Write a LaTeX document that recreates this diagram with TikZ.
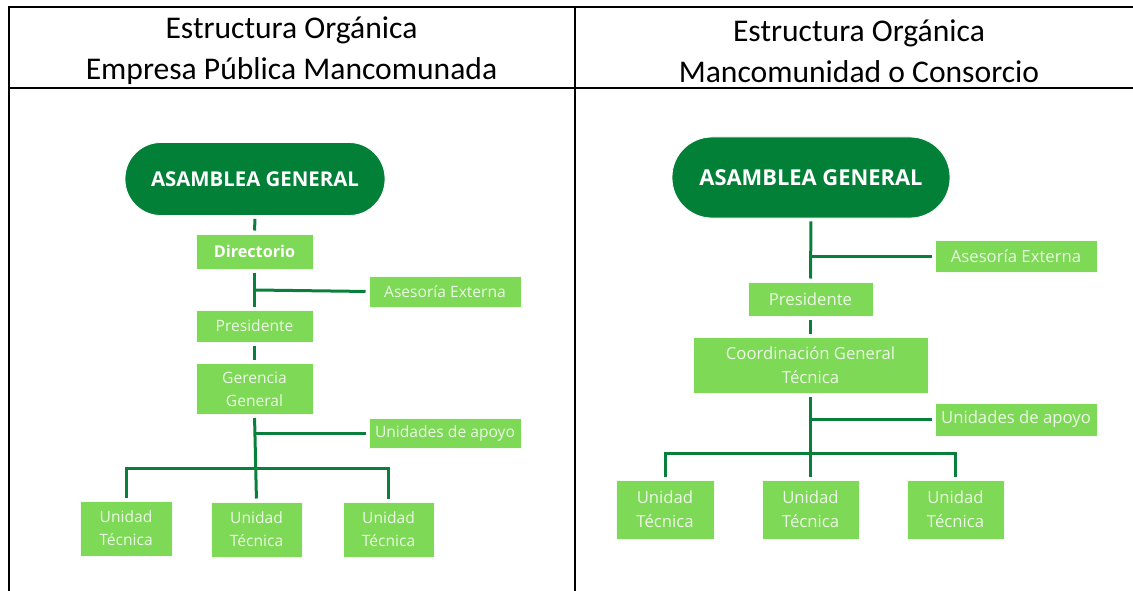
\documentclass[tikz,border=0pt]{standalone}
\usepackage{fontspec}
\setmainfont{Carlito}
\newfontfamily\os{Open Sans}
\definecolor{dgreen}{RGB}{2,128,55}
\definecolor{lgreen}{RGB}{126,217,87}
\definecolor{ltxt}{RGB}{236,248,230}
\definecolor{lconn}{RGB}{8,128,60}
\tikzset{
  pill/.style={fill=dgreen, draw=white, line width=0.8pt, rounded corners=#1, text=white,
    font=\os\bfseries\fontsize{20.4}{24}\selectfont, inner sep=0pt},
  lbox/.style={fill=lgreen, draw=white!92!lgreen, line width=1pt, text=ltxt, inner sep=0pt,
    align=center, font=\os\fontsize{15.6}{23}\selectfont},
  rbox/.style={lbox, font=\os\fontsize{16.7}{24}\selectfont},
  conn/.style={draw=lconn, line width=3pt, shorten <=3pt, shorten >=3pt},
  rule/.style={draw=black, line width=2pt},
  head/.style={align=center, font=\fontsize{31.6}{41}\selectfont, inner sep=0pt}
}
\begin{document}
\begin{tikzpicture}[x=1pt,y=-1pt]
\useasboundingbox (0,0) rectangle (1133,591);
% table rules
\draw[rule] (1133,7.5) -- (8.5,7.5) -- (8.5,591);
\draw[rule] (8.5,88) -- (1133,88);
\draw[rule] (575,7.5) -- (575,591);
\node[head] (hL) at (291.5,51) {Estructura Orgánica\\Empresa Pública Mancomunada};
\node[head] (hR) at (859,51) {Estructura Orgánica\\Mancomunidad o Consorcio};

% ---------- left chart ----------
\node[pill=36pt, minimum width=260pt, minimum height=73pt] (asmL) at (255,179) {ASAMBLEA GENERAL};
\node[lbox, minimum width=117pt, minimum height=35pt, font=\os\bfseries\fontsize{16.2}{22}\selectfont, text=white] (dirL) at (254.5,251.5) {Directorio};
\node[lbox, minimum width=152pt, minimum height=31pt] (aseL) at (445,291.5) {Asesoría Externa};
\node[lbox, minimum width=117pt, minimum height=32pt] (preL) at (254.5,326) {Presidente};
\node[lbox, minimum width=117pt, minimum height=51pt] (gerL) at (254.5,389) {Gerencia\\General};
\node[lbox, minimum width=152pt, minimum height=30pt] (uniL) at (445,433) {Unidades de apoyo};
\node[lbox, minimum width=92pt, minimum height=55pt] (u1L) at (126,528.5) {Unidad\\Técnica};
\node[lbox, minimum width=91pt, minimum height=55pt] (u2L) at (256.5,529.5) {Unidad\\Técnica};
\node[lbox, minimum width=91pt, minimum height=55pt] (u3L) at (388.5,529.5) {Unidad\\Técnica};
\coordinate (jaL) at (255,290);
\coordinate (juL) at (255.7,433);
\coordinate (busL) at (256,468);
\draw[conn] (asmL.south) -- (dirL.north);
\draw[conn] (dirL.south) -- (preL.north);
\draw[conn, shorten <=0pt] (jaL) -- (aseL.west);
\draw[conn] (preL.south) -- (gerL.north);
\draw[conn] (gerL.south) -- (u2L.north);
\draw[conn, shorten <=0pt] (juL) -- (uniL.west);
\draw[conn] (u1L.north) |- (busL) -| (u3L.north);

% ---------- right chart ----------
\node[pill=40pt, minimum width=278pt, minimum height=81pt, font=\os\bfseries\fontsize{21.9}{26}\selectfont] (asmR) at (811,177.5) {ASAMBLEA GENERAL};
\node[rbox, minimum width=162pt, minimum height=32pt] (aseR) at (1016,256) {Asesoría Externa};
\node[rbox, minimum width=125pt, minimum height=34pt] (preR) at (810.5,299) {Presidente};
\node[rbox, minimum width=235pt, minimum height=56pt] (coR) at (810.5,365) {Coordinación General\\Técnica};
\node[rbox, minimum width=162pt, minimum height=33pt] (uniR) at (1016,419.5) {Unidades de apoyo};
\node[rbox, minimum width=98pt, minimum height=59pt] (u1R) at (665,509.5) {Unidad\\Técnica};
\node[rbox, minimum width=97pt, minimum height=59pt] (u2R) at (810.5,509.5) {Unidad\\Técnica};
\node[rbox, minimum width=97pt, minimum height=59pt] (u3R) at (955.5,509.5) {Unidad\\Técnica};
\coordinate (jaR) at (810.5,256);
\coordinate (juR) at (810.5,419.5);
\coordinate (busR) at (810.5,453);
\draw[conn] (asmR.south) -- (preR.north);
\draw[conn, shorten <=0pt] (jaR) -- (aseR.west);
\draw[conn] (preR.south) -- (coR.north);
\draw[conn] (coR.south) -- (u2R.north);
\draw[conn, shorten <=0pt] (juR) -- (uniR.west);
\draw[conn] (u1R.north) |- (busR) -| (u3R.north);
\end{tikzpicture}
\end{document}
